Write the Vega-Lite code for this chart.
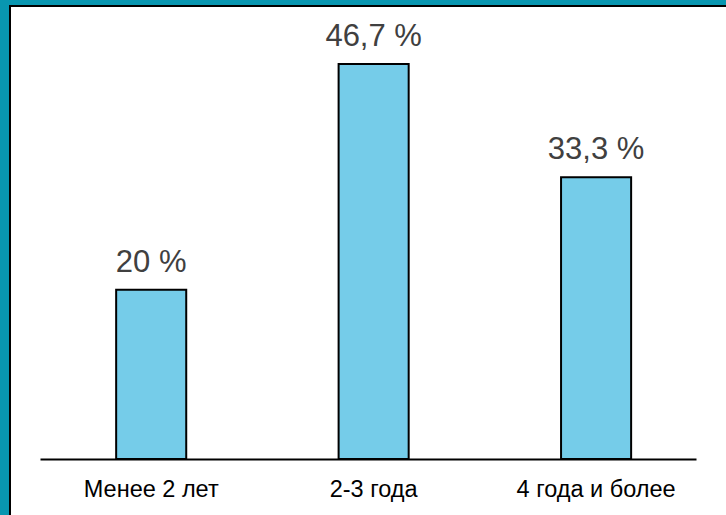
{
  "$schema": "https://vega.github.io/schema/vega-lite/v6.json",
  "width": 726,
  "height": 515,
  "autosize": {"type": "fit", "contains": "padding"},
  "padding": {"left": 10, "top": 6, "right": -2, "bottom": -2},
  "background": "#0896B0",
  "config": {
    "view": {"fill": "#ffffff", "stroke": "#000000", "strokeWidth": 2},
    "font": "Liberation Sans"
  },
  "data": {
    "values": [
      {"category": "Менее 2 лет", "value": 20, "label": "20 %"},
      {"category": "2-3 года", "value": 46.7, "label": "46,7 %"},
      {"category": "4 года и более", "value": 33.3, "label": "33,3 %"}
    ]
  },
  "encoding": {
    "x": {
      "field": "category",
      "type": "nominal",
      "sort": null,
      "scale": {"range": [30, 686], "paddingInner": 0.685, "paddingOuter": 0.317, "align": 0.54},
      "axis": {
        "title": null,
        "orient": "bottom",
        "offset": -58,
        "labelAngle": 0,
        "ticks": false,
        "grid": false,
        "domainColor": "#000000",
        "domainWidth": 2,
        "labelColor": "#000000",
        "labelFontSize": 23.5,
        "labelFont": "Liberation Sans",
        "labelPadding": 18
      }
    },
    "y": {
      "field": "value",
      "type": "quantitative",
      "scale": {"domain": [-6.857, 53.56], "nice": false, "zero": false},
      "axis": null
    }
  },
  "layer": [
    {
      "mark": {"type": "bar", "fill": "#75CCE9", "stroke": "#000000", "strokeWidth": 2},
      "encoding": {"y2": {"datum": 0}}
    },
    {
      "mark": {"type": "text", "baseline": "alphabetic", "align": "center", "dy": -18, "fontSize": 31, "color": "#404040", "font": "Liberation Sans"},
      "encoding": {"text": {"field": "label"}}
    }
  ]
}
